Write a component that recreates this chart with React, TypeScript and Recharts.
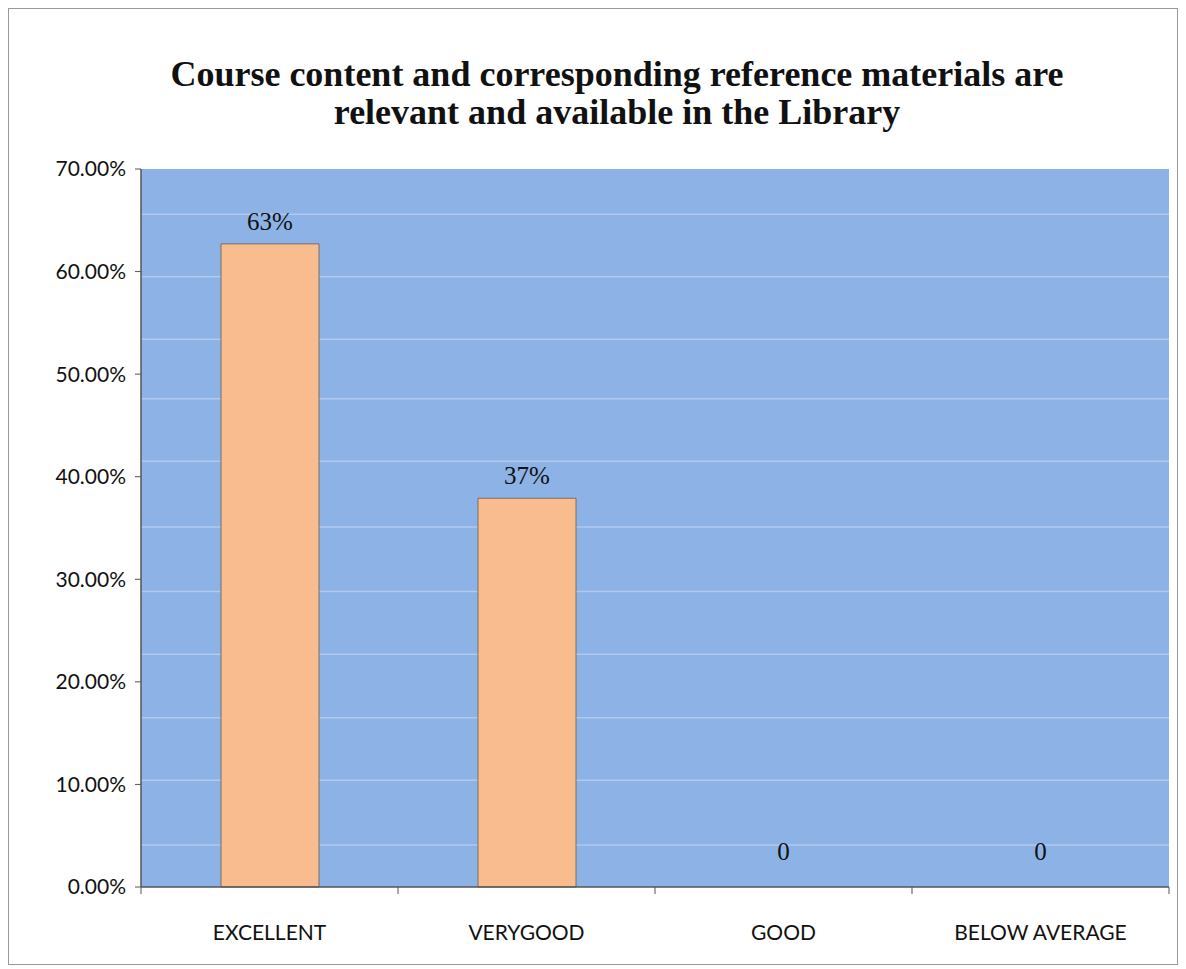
import React from "react";
import { ComposedChart, Bar, Line, XAxis, YAxis, CartesianGrid, LabelList } from "recharts";

const categories = ["EXCELLENT", "VERYGOOD", "GOOD", "BELOW AVERAGE"];
const values = [0.627, 0.379, 0, 0];
const valueLabels = ["63%", "37%", "0", "0"];
const yTicks = [0, 0.1, 0.2, 0.3, 0.4, 0.5, 0.6, 0.7];
const gridTicks = [0.041, 0.104, 0.165, 0.227, 0.288, 0.351, 0.415, 0.476, 0.534, 0.595, 0.656];

const data = categories.map((c, i) => ({ name: c, value: values[i], label: valueLabels[i] }));

const sans = "Lato, 'Open Sans', sans-serif";
const serif = "'Liberation Serif', 'Times New Roman', serif";

const CatTick = (props: any) => {
  const { x, y, payload, index } = props;
  const off = payload.offset || 0;
  const last = index === categories.length - 1;
  return (
    <g>
      <line x1={x - off} x2={x - off} y1={y - 8} y2={y - 1} stroke="#555" strokeWidth={1} />
      {last && <line x1={x + off} x2={x + off} y1={y - 8} y2={y - 1} stroke="#555" strokeWidth={1} />}
      <text x={x} y={y + 45} textAnchor="middle" fontFamily={sans} fontSize={21} fill="#111">
        {payload.value}
      </text>
    </g>
  );
};

const BarValueLabel = (props: any) => {
  const { x, y, width, index } = props;
  if (values[index] === 0) return null;
  return (
    <text x={x + width / 2} y={y - 14} textAnchor="middle" fontFamily={serif} fontSize={25} fill="#111">
      {valueLabels[index]}
    </text>
  );
};

const ZeroLabel = (props: any) => {
  const { x, y, index } = props;
  if (values[index] !== 0) return null;
  return (
    <text x={x} y={y - 27} textAnchor="middle" fontFamily={serif} fontSize={25} fill="#111">
      {valueLabels[index]}
    </text>
  );
};

export default function App() {
  return (
    <div
      style={{
        position: "relative",
        width: 1168,
        height: 955,
        border: "1px solid #999",
        background: "#fff",
      }}
    >
      <div
        style={{
          position: "absolute",
          top: 46,
          left: 0,
          width: 1216,
          textAlign: "center",
          fontFamily: serif,
          fontWeight: "bold",
          fontSize: 36,
          lineHeight: "38px",
          color: "#111",
        }}
      >
        Course content and corresponding reference materials are
        <br />
        relevant and available in the Library
      </div>
      <ComposedChart
        width={1168}
        height={955}
        data={data}
        margin={{ top: 160, right: 8, bottom: 0, left: 0 }}
      >
        <CartesianGrid
          vertical={false}
          horizontalValues={gridTicks}
          fill="#8DB3E6"
          fillOpacity={1}
          stroke="#ffffff"
          strokeOpacity={0.3}
          strokeWidth={1.5}
        />
        <XAxis
          dataKey="name"
          axisLine={{ stroke: "#555", strokeWidth: 1.5 }}
          tickLine={false}
          tick={<CatTick />}
          interval={0}
          height={77}
        />
        <YAxis
          domain={[0, 0.7]}
          ticks={yTicks}
          interval={0}
          width={132}
          axisLine={{ stroke: "#555", strokeWidth: 1.5 }}
          tickLine={{ stroke: "#555" }}
          tickSize={6}
          tickMargin={9}
          tick={{ fontFamily: sans, fontSize: 21, fill: "#111" }}
          tickFormatter={(v: number) => (v * 100).toFixed(2) + "%"}
        />
        <Bar
          dataKey="value"
          fill="#F9BC8E"
          stroke="#6b5a4a"
          strokeWidth={0.8}
          barSize={98}
          isAnimationActive={false}
          label={<BarValueLabel />}
        />
        <Line
          dataKey="value"
          stroke="none"
          dot={false}
          activeDot={false}
          isAnimationActive={false}
        >
          <LabelList dataKey="label" content={<ZeroLabel />} />
        </Line>
      </ComposedChart>
    </div>
  );
}
